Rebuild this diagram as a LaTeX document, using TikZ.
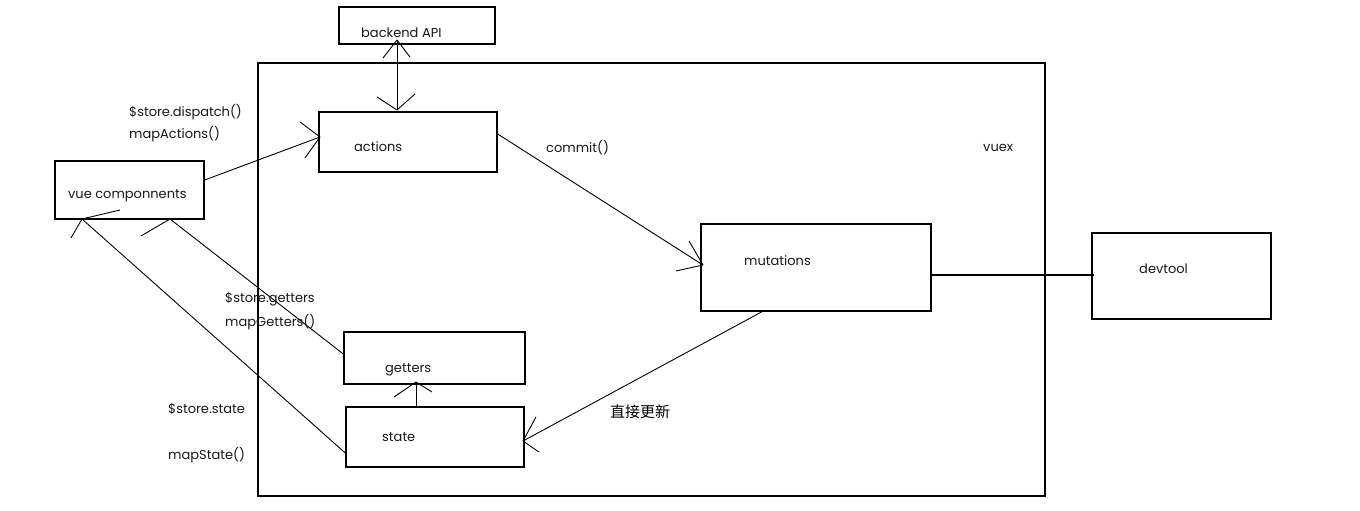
\documentclass[tikz,border=0pt]{standalone}
\usepackage{fontspec}
\setmainfont{Poppins}
\newfontfamily\cjk{Noto Sans CJK SC}
\begin{document}
\begin{tikzpicture}[x=1pt,y=-1pt,
  box/.style={draw,line width=1.4pt,inner sep=0pt,rectangle},
  lbl/.style={anchor=base west,inner sep=0pt,text=black!90,font=\fontsize{13}{15}\selectfont},
  zh/.style={anchor=base west,inner sep=0pt,font=\cjk\fontsize{15}{17}\selectfont},
  link/.style={line width=0.9pt},
  wing/.style={line width=0.9pt}]
\useasboundingbox[fill=white] (0,0) rectangle (1360,511);

% boxes
\node[box,minimum width=787pt,minimum height=433pt] (vuex) at (651.5,279.5) {};
\node[box,minimum width=156pt,minimum height=37pt] (backend) at (417,25.5) {};
\node[box,minimum width=178pt,minimum height=60pt] (actions) at (408,142) {};
\node[box,minimum width=149pt,minimum height=58pt] (vuec) at (129.5,190) {};
\node[box,minimum width=230pt,minimum height=87pt] (mutations) at (816,267.5) {};
\node[box,minimum width=179pt,minimum height=86pt] (devtool) at (1181.5,276) {};
\node[box,minimum width=181pt,minimum height=52pt] (getters) at (434.5,358) {};
\node[box,minimum width=178pt,minimum height=60pt] (state) at (435,437) {};

% texts
\node[lbl] (t-backend) at (361,38) {backend API};
\node[lbl] (t-actions) at (354,151) {actions};
\node[lbl] (t-vuec) at (68,198) {vue componnents};
\node[lbl] (t-dispatch) at (129,116) {\$store.dispatch()};
\node[lbl] (t-mapactions) at (129,138) {mapActions()};
\node[lbl] (t-commit) at (546,152) {commit()};
\node[lbl] (t-vuex) at (983,151) {vuex};
\node[lbl] (t-mutations) at (744,265) {mutations};
\node[lbl] (t-devtool) at (1139,273) {devtool};
\node[lbl] (t-sgetters) at (225,302) {\$store.getters};
\node[lbl] (t-mapgetters) at (225,326) {mapGetters()};
\node[lbl] (t-getters) at (385,372) {getters};
\node[lbl] (t-sstate) at (168,413) {\$store.state};
\node[lbl] (t-mapstate) at (168,459) {mapState()};
\node[lbl] (t-state) at (382,441) {state};
\node[zh] (t-update) at (610,417) {直接更新};

% connector end points on the boxes
\coordinate (api-top) at (backend.south -| 397,0) ;
\coordinate (api-tip) at (397,40);
\coordinate (act-tip) at (397,110);
\coordinate (vc-out) at (vuec.east |- 0,180);
\coordinate (act-in) at (320,137);
\coordinate (act-out) at (actions.east |- 0,134);
\coordinate (mut-in) at (703,265);
\coordinate (mut-out) at (mutations.south -| 762,0);
\coordinate (st-in) at (523,441);
\coordinate (mut-dev) at (mutations.east |- 0,275);
\coordinate (dev-in) at (1094,275);
\coordinate (st-up) at (state.north -| 416,0);
\coordinate (get-in) at (416,382);
\coordinate (get-out) at (getters.west |- 0,354);
\coordinate (vc-in1) at (170,219);
\coordinate (st-out) at (state.west |- 0,453);
\coordinate (vc-in2) at (82,219);

% backend API <-> actions
\draw[link] (api-tip) -- (act-tip);
\draw[wing] (api-tip) -- +(-14,18) (api-tip) -- +(13,17);
\draw[wing] (act-tip) -- +(-20,-13) (act-tip) -- +(18,-16);
% vue componnents -> actions
\draw[link] (vc-out) -- (act-in);
\draw[wing] (act-in) -- +(-20,-15) (act-in) -- +(-15,21);
% actions -> mutations
\draw[link] (act-out) -- (mut-in);
\draw[wing] (mut-in) -- +(-14,-24) (mut-in) -- +(-27,6);
% mutations -> state
\draw[link] (mut-out) -- (st-in);
\draw[wing] (st-in) -- +(13,-24) (st-in) -- +(16,11);
% mutations -- devtool
\draw[line width=1.3pt] (mut-dev) -- (dev-in);
% state -> getters
\draw[link] (st-up) -- (get-in);
\draw[wing] (get-in) -- +(-22,15) (get-in) -- +(16,10);
% getters -> vue componnents
\draw[link] (get-out) -- (vc-in1);
\draw[wing] (vc-in1) -- +(-29,17);
% state -> vue componnents
\draw[link] (st-out) -- (vc-in2);
\draw[wing] (vc-in2) -- +(-11,19) (vc-in2) -- +(38,-9);
\end{tikzpicture}
\end{document}
